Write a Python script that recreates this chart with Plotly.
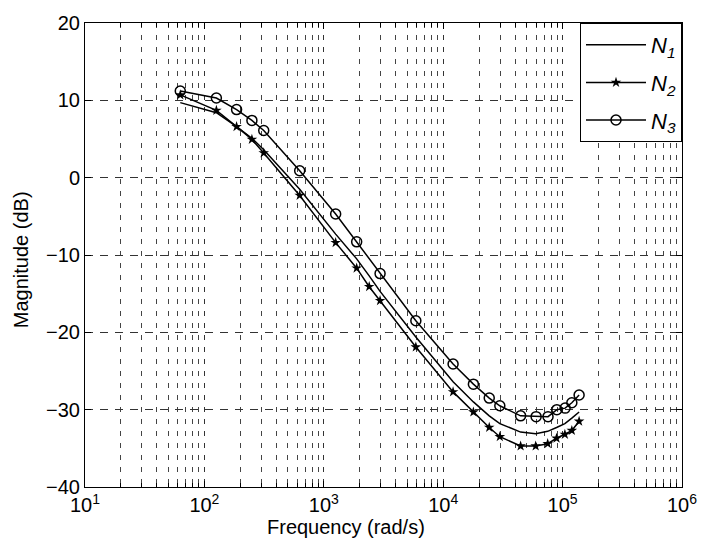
import plotly.graph_objects as go

# frequencies (rad/s) where markers were read
freq = [62.8, 126, 186, 250, 314, 628, 1257, 1885, 2400, 2960, 5900, 12100,
        17900, 24300, 29800, 44500, 59500, 75000, 89000, 104500, 119500, 137500]

n1_db = [9.7, 8.4, 6.6, 5.1, 3.6, -1.5, -7.3, -10.5, -12.7, -14.7, -20.6, -26.4,
         -29.0, -30.8, -31.8, -32.9, -33.1, -32.8, -32.3, -31.8, -31.1, -30.3]

n2_db = [10.7, 8.7, 6.6, 4.95, 3.2, -2.3, -8.4, -11.7, -14.1, -15.9, -21.9, -27.7,
         -30.3, -32.3, -33.5, -34.7, -34.7, -34.4, -33.7, -33.2, -32.7, -31.5]

n3_freq = [62.8, 126, 186, 250, 314, 628, 1257, 1885, 2960, 5900, 12100,
           17900, 24300, 29800, 44500, 60000, 75500, 89500, 105000, 119500, 137500]
n3_db = [11.2, 10.3, 8.8, 7.4, 6.1, 0.9, -4.7, -8.3, -12.4, -18.5, -24.1,
         -26.7, -28.5, -29.5, -30.8, -30.9, -30.9, -30.0, -29.8, -29.1, -28.1]

names = ["<i>N<sub>1</sub></i>", "<i>N<sub>2</sub></i>", "<i>N<sub>3</sub></i>"]

x_tickvals = [1e1, 1e2, 1e3, 1e4, 1e5, 1e6]
x_ticktext = ["10<sup>1</sup>", "10<sup>2</sup>", "10<sup>3</sup>",
              "10<sup>4</sup>", "10<sup>5</sup>", "10<sup>6</sup>"]
y_tickvals = [-40, -30, -20, -10, 0, 10, 20]

FONT = "Liberation Sans, Arial, sans-serif"
fig = go.Figure()
fig.add_trace(go.Scatter(x=freq, y=n1_db, mode="lines", name=names[0],
                         line=dict(color="black", width=1.5), legendgroup="a"))
fig.add_trace(go.Scatter(x=freq, y=n2_db, mode="lines+markers", name=names[1],
                         line=dict(color="black", width=1.5),
                         marker=dict(symbol="star", size=8, color="black"), legendgroup="b"))
fig.add_trace(go.Scatter(x=n3_freq, y=n3_db, mode="lines+markers", name=names[2],
                         line=dict(color="black", width=1.5),
                         marker=dict(symbol="circle-open", size=10, color="black",
                                     line=dict(width=1.5)), legendgroup="c"))

grid_dash = "5px,7px"
fig.update_layout(
    width=709, height=555,
    margin=dict(l=85, r=17, t=18, b=68),
    paper_bgcolor="white", plot_bgcolor="white",
    font=dict(family=FONT, size=20, color="black"),
    showlegend=True,
    legend=dict(x=1, xanchor="right", y=1, yanchor="top",
                bordercolor="black", borderwidth=1, bgcolor="white",
                font=dict(size=22), tracegroupgap=6, itemwidth=60),
    xaxis=dict(type="log", range=[1, 6], tickmode="array",
               tickvals=x_tickvals, ticktext=x_ticktext,
               showline=True, linecolor="black", linewidth=1, mirror="ticks",
               ticks="inside", ticklen=6, tickcolor="black",
               showgrid=True, gridcolor="#333", griddash=grid_dash, gridwidth=1,
               zeroline=False,
               minor=dict(ticks="inside", ticklen=4, tickcolor="black", dtick="D1",
                          showgrid=True, gridcolor="#444", griddash=grid_dash)),
    yaxis=dict(range=[-40, 20], tickmode="array", tickvals=y_tickvals,
               showline=True, linecolor="black", linewidth=1, mirror="ticks",
               ticks="inside", ticklen=6, tickcolor="black",
               showgrid=True, gridcolor="#333", griddash="8px,7px", gridwidth=1,
               zeroline=False),
    annotations=[
        dict(text="Frequency (rad/s)", xref="paper", yref="paper",
             x=0.4366, y=-0.087, xanchor="center", yanchor="middle",
             showarrow=False, font=dict(size=20)),
        dict(text="Magnitude (dB)", xref="paper", yref="paper",
             x=-0.108, y=0.49, xanchor="center", yanchor="middle",
             textangle=-90, showarrow=False, font=dict(size=20)),
    ],
)

fig.write_html("out.html")
